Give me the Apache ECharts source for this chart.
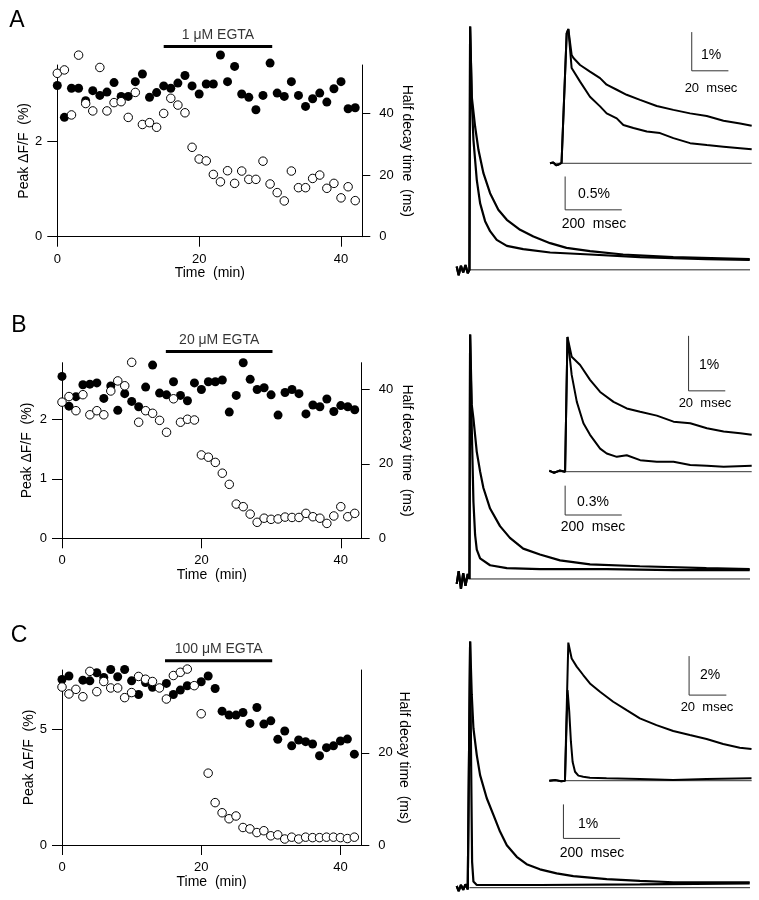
<!DOCTYPE html>
<html>
<head>
<meta charset="utf-8">
<script src="https://cdn.jsdelivr.net/npm/echarts@6/dist/echarts.min.js"></script>
<style>
html, body { margin: 0; padding: 0; background: #fff; }
#main { width: 759px; height: 900px; }
</style>
</head>
<body>
<div id="main"></div>
<script>
// time axis of the left panels (one point per minute)
var minutes = [0,1,2,3,4,5,6,7,8,9,10,11,12,13,14,15,16,17,18,19,20,21,22,23,24,25,26,27,28,29,30,31,32,33,34,35,36,37,38,39,40,41,42];

// A - 1 uM EGTA : filled = peak dF/F (%), open = half decay time (ms)
var peakA = [3.18,2.51,3.12,3.12,2.86,3.07,2.97,3.04,3.24,2.95,2.95,3.26,3.42,2.93,3.03,3.17,3.12,3.23,3.39,3.17,3.00,3.21,3.21,3.82,3.26,3.58,3.00,2.93,2.67,2.97,3.65,3.02,2.95,3.26,2.97,2.74,2.90,3.02,2.83,3.11,3.26,2.69,2.71];
var decayA = [53.0,54.1,39.5,58.9,43.2,40.8,54.9,40.8,43.5,43.8,38.7,46.8,36.4,37.0,35.5,40.0,44.9,42.7,40.2,29.0,25.2,24.6,20.2,17.8,21.4,17.3,21.3,18.6,18.6,24.5,17.1,14.3,11.6,21.3,15.9,15.9,18.9,20.0,15.7,17.3,12.6,16.2,11.7];

// B - 20 uM EGTA
var peakB = [2.72,2.22,2.38,2.58,2.59,2.61,2.35,2.56,2.15,2.43,2.30,2.21,2.54,2.91,2.44,2.41,2.63,2.40,2.31,2.61,2.50,2.63,2.63,2.66,2.12,2.40,2.95,2.67,2.50,2.53,2.41,2.07,2.45,2.50,2.43,2.09,2.24,2.21,2.34,2.13,2.23,2.21,2.16];
var decayB = [36.6,38.1,34.3,38.6,33.2,34.3,33.2,39.6,42.3,41.0,47.3,31.2,34.3,33.6,31.7,28.5,37.5,31.2,32.0,31.8,22.4,21.8,20.4,17.5,14.5,9.2,8.5,6.5,4.3,5.4,5.1,5.2,5.7,5.6,5.6,6.7,5.8,5.4,4.0,6.0,8.5,5.8,6.7];

// C - 100 uM EGTA (null = hidden behind an open circle)
var peakC = [7.16,7.31,null,7.13,7.10,7.45,7.25,7.59,7.28,7.59,7.10,6.51,7.03,6.82,null,6.99,6.51,6.70,6.89,null,7.06,7.31,6.77,5.79,5.62,5.62,5.73,5.26,5.95,5.23,5.37,4.57,4.93,4.29,4.54,4.47,4.37,3.86,4.21,4.29,4.50,4.58,3.93];
var decayC = [34.3,32.8,33.8,32.2,37.7,33.3,35.5,34.1,34.1,32.0,33.1,36.6,36.0,35.5,34.1,31.7,36.8,37.5,38.2,34.6,28.5,15.6,9.2,7.0,5.7,6.3,3.8,3.5,2.7,3.1,2.0,2.2,1.3,1.7,1.3,1.7,1.6,1.6,1.7,1.7,1.6,1.4,1.7];

var egtaLabels = ['1 \u03bcM EGTA', '20 \u03bcM EGTA', '100 \u03bcM EGTA'];
var egtaStart = [15, 14.9, 14.8];
var egtaEnd = [30.3, 30.2, 30.2];
var egtaLevel = [4.0, 3.14, 7.97];   // in left-axis units, above the plot

var timeTicks = [0, 20, 40];
var peakTicks = [[0, 2], [0, 1, 2], [0, 5]];
var decayTicks = [[0, 20, 40], [0, 20, 40], [0, 20]];

// right panels: [time ms, dF/F %]
var mainPreA = [[-45,0.05],[-38,-0.08],[-30,0.06],[-22,-0.04],[-14,0.07],[-6,-0.05],[0,0]];
var mainA_fast = [[2.4,3.65],[8.2,2.55],[14.1,1.95],[25.9,1.35],[37.6,1.0],[55.3,0.73],[72.9,0.58],[96.4,0.45],[132,0.36],[190,0.31],[285,0.26],[426,0.23],[602,0.19],[837,0.16],[990,0.15]];
var mainA_slow = [[2.4,3.65],[8.2,2.6],[20,2.15],[31.8,1.8],[49.4,1.45],[72.9,1.15],[102,0.9],[132,0.75],[179,0.6],[226,0.5],[285,0.4],[343,0.33],[426,0.28],[543,0.23],[720,0.19],[990,0.16]];
var insetPreA = [[-7.3,0],[-5.5,0.02],[-4,-0.05],[-2.5,-0.03],[-1,0.01],[0,0],[1.8,3.36],[2.7,3.47]];
var insetA_slow = [[4.5,2.80],[5.5,2.72],[9.1,2.54],[14.5,2.37],[20,2.20],[23.6,2.03],[29.1,1.90],[34.5,1.77],[41.8,1.64],[50.9,1.48],[60,1.38],[69.1,1.29],[78.2,1.22],[87.3,1.10],[96.4,1.03],[102.7,0.97]];
var insetA_fast = [[4.5,2.46],[5.5,2.41],[9.1,2.11],[14.5,1.72],[20,1.47],[23.6,1.29],[29.1,1.16],[32.7,0.99],[38.2,0.91],[45.5,0.82],[52.7,0.78],[60,0.65],[69.1,0.52],[78.2,0.47],[87.3,0.43],[96.4,0.39],[102.7,0.36]];

var mainPreB = [[-45,-0.05],[-38,0.08],[-30,-0.1],[-22,0.06],[-14,-0.07],[-6,0.05],[0,0]];
var mainB_fast = [[2.4,2.5],[8.2,1.54],[14.1,0.79],[20,0.45],[25.9,0.30],[37.6,0.21],[72.9,0.14],[132,0.11],[249,0.10],[485,0.10],[720,0.09],[990,0.09]];
var mainB_slow = [[2.4,2.5],[8.2,1.78],[14.1,1.64],[25.9,1.30],[37.6,1.10],[49.4,0.93],[72.9,0.72],[108,0.54],[143,0.42],[190,0.31],[249,0.25],[320,0.19],[426,0.15],[602,0.13],[837,0.11],[990,0.10]];
var insetPreB = [[-8.6,0.02],[-6,-0.02],[-3,0.02],[0,0],[1.3,2.45]];
var insetB_slow = [[3.6,2.09],[8.2,1.94],[13.6,1.67],[19.1,1.45],[26.4,1.27],[33.6,1.15],[40.9,1.09],[50,1.02],[59.1,0.91],[68.2,0.88],[77.3,0.79],[86.4,0.73],[95.5,0.70],[101.7,0.67]];
var insetB_fast = [[3.6,1.76],[6.4,1.27],[10,0.88],[13.6,0.67],[19.1,0.42],[22.7,0.33],[28.2,0.27],[33.6,0.30],[40.9,0.21],[50,0.18],[59.1,0.18],[68.2,0.12],[77.3,0.11],[86.4,0.09],[101.7,0.11]];

var mainPreC = [[-45,0.05],[-38,-0.1],[-30,0.08],[-22,-0.06],[-14,0.1],[-6,-0.05],[0,0]];
var mainC_fast = [[2.4,7.24],[5.9,3.7],[9.4,0.76],[14.1,0.18],[25.9,0.08],[249,0.08],[602,0.10],[990,0.13]];
var mainC_slow = [[2.4,7.24],[8.2,5.67],[14.1,4.69],[25.9,3.90],[37.6,3.31],[61.2,2.63],[84.7,2.14],[108,1.65],[132,1.25],[167,0.91],[202,0.69],[249,0.54],[308,0.42],[367,0.34],[485,0.25],[602,0.20],[720,0.16],[990,0.16]];
var insetPreC = [[-8.4,0],[-5,0.03],[-2,-0.03],[0,0]];
var insetC_slow = [[1.8,7.08],[3.6,6.27],[6.3,5.85],[9.8,5.42],[13.4,4.99],[18.8,4.56],[25.9,4.05],[33.1,3.62],[40.2,3.20],[49.1,2.85],[58.1,2.55],[67,2.34],[76,2.14],[84.9,1.88],[93.8,1.69],[100.1,1.62]];
var insetC_fast = [[1.4,4.65],[2.3,3.54],[3.2,2.0],[4.1,0.97],[5.4,0.46],[7.2,0.26],[9.8,0.2],[13.4,0.15],[22.3,0.12],[40.2,0.09],[58.1,0.03],[76,0.09],[100.1,0.12]];

// scale bars: [x0, x1, y0, y1] in trace units, and their labels
var mainBars = [[338, 538, 0.9, 1.4], [338, 538, 0.654, 0.954], [332, 532, 1.45, 2.45]];
var insetBars = [[70, 90, 2.39, 3.39], [67.3, 87.3, 1.47, 2.47], [66.6, 86.6, 4.39, 6.39]];
var mainBarText = ['0.5%', '0.3%', '1%'];
var insetBarText = ['1%', '1%', '2%'];

var font = '"Liberation Sans", Arial, Helvetica, sans-serif';
var myChart = echarts.init(document.getElementById('main'));

function pairs(xs, ys) {
	var out = [];
	for (var i = 0; i < xs.length; i++) {
		if (ys[i] != null) out.push([xs[i], ys[i]]);
	}
	return out;
}

var nameTxt = {color: '#000', fontFamily: font, fontSize: 14};

// layout of the 9 grids
var grids = [
	{left: 57.3, top: 65, width: 305, height: 171.7},
	{left: 62, top: 362.7, width: 299.7, height: 175.6},
	{left: 62, top: 670, width: 299.3, height: 175},
	{left: 456.7, top: 16.5, width: 293.3, height: 280},
	{left: 550, top: 20.1, width: 201.7, height: 154.8},
	{left: 456.7, top: 324.7, width: 293.3, height: 283.6},
	{left: 549.3, top: 328.7, width: 202.4, height: 154},
	{left: 456.7, top: 632.7, width: 293.3, height: 265.2},
	{left: 549.3, top: 636.4, width: 202.4, height: 152.1}
];
grids.forEach(function (g) { g.outerBoundsMode = 'none'; g.containLabel = false; });

var peakMax = [3.61, 2.95, 7.57];
var decayMax = [55.7, 47.2, 38.0];
var leftGap = [19, 28, 25];
var rightGap = [38, 38, 36];

var xAxes = [], yAxes = [], series = [];

function axisBase() {
	return {
		axisLine: {show: true, onZero: false, lineStyle: {color: '#000', width: 1}},
		splitLine: {show: false},
		nameTextStyle: nameTxt
	};
}

for (var p = 0; p < 3; p++) {
	var xa = axisBase();
	xa.type = 'value'; xa.gridIndex = p; xa.min = 0; xa.max = 43;
	xa.axisTick = {show: true, length: 10, customValues: timeTicks, lineStyle: {color: '#000'}};
	xa.axisLabel = {customValues: timeTicks, margin: 16, color: '#000', fontFamily: font, fontSize: 13};
	xa.name = 'Time  (min)'; xa.nameLocation = 'middle'; xa.nameGap = 29;
	xAxes.push(xa);

	var yl = axisBase();
	yl.type = 'value'; yl.gridIndex = p; yl.position = 'left'; yl.min = 0; yl.max = peakMax[p];
	yl.axisTick = {show: true, length: 10, customValues: peakTicks[p], lineStyle: {color: '#000'}};
	yl.axisLabel = {customValues: peakTicks[p], margin: 15, color: '#000', fontFamily: font, fontSize: 13};
	yl.name = 'Peak \u0394F/F  (%)'; yl.nameLocation = 'middle'; yl.nameGap = leftGap[p]; yl.nameRotate = 90;
	yAxes.push(yl);

	var yr = axisBase();
	yr.type = 'value'; yr.gridIndex = p; yr.position = 'right'; yr.min = 0; yr.max = decayMax[p];
	yr.axisTick = {show: true, length: 8, customValues: decayTicks[p], lineStyle: {color: '#000'}};
	yr.axisLabel = {customValues: decayTicks[p], margin: 17, color: '#000', fontFamily: font, fontSize: 13};
	yr.name = 'Half decay time  (ms)'; yr.nameLocation = 'middle'; yr.nameGap = rightGap[p]; yr.nameRotate = -90;
	yAxes.push(yr);
}

// trace grids 3..8
var traceX = [[-45, 991], [-7.3, 102.7], [-45, 991], [-8.6, 101.7], [-45, 991], [-8.4, 100.2]];
var traceY = [[-0.4, 3.8], [-0.3, 3.7], [-0.3, 2.6], [-0.2, 2.6], [-0.3, 7.5], [-0.4, 7.4]];
for (var t = 0; t < 6; t++) {
	xAxes.push({type: 'value', gridIndex: 3 + t, min: traceX[t][0], max: traceX[t][1], show: false});
	yAxes.push({type: 'value', gridIndex: 3 + t, min: traceY[t][0], max: traceY[t][1], show: false});
}

var peaks = [peakA, peakB, peakC];
var decays = [decayA, decayB, decayC];
for (p = 0; p < 3; p++) {
	series.push({
		type: 'scatter', xAxisIndex: p, yAxisIndex: 2 * p, clip: false, z: 2,
		symbolSize: 9, itemStyle: {color: '#000', opacity: 1},
		data: pairs(minutes, peaks[p])
	});
	series.push({
		type: 'scatter', xAxisIndex: p, yAxisIndex: 2 * p + 1, clip: false, z: 3,
		symbolSize: 8.5, itemStyle: {color: '#fff', borderColor: '#000', borderWidth: 1, opacity: 1},
		data: pairs(minutes, decays[p])
	});
	series.push({
		type: 'line', xAxisIndex: p, yAxisIndex: 2 * p, clip: false, symbol: 'none',
		lineStyle: {color: '#000', width: 3},
		data: [[egtaStart[p], egtaLevel[p]], [egtaEnd[p], egtaLevel[p]]]
	});
	series.push({
		type: 'scatter', xAxisIndex: p, yAxisIndex: 2 * p, clip: false, symbolSize: 1,
		itemStyle: {color: 'rgba(0,0,0,0)'},
		label: {show: true, position: 'top', distance: 4, formatter: '{b}', color: '#000', fontFamily: font, fontSize: 14},
		data: [{name: egtaLabels[p], value: [(egtaStart[p] + egtaEnd[p]) / 2, egtaLevel[p]]}]
	});
}

var traces = [
	{main: [mainPreA.concat(mainA_fast), mainPreA.concat(mainA_slow)], inset: [insetPreA.concat(insetA_fast), insetPreA.concat(insetA_slow)]},
	{main: [mainPreB.concat(mainB_fast), mainPreB.concat(mainB_slow)], inset: [insetPreB.concat(insetB_fast), insetPreB.concat(insetB_slow)]},
	{main: [mainPreC.concat(mainC_fast), mainPreC.concat(mainC_slow)], inset: [insetPreC.concat(insetC_fast), insetPreC.concat(insetC_slow)]}
];

function lineSeries(ax, data, w, color) {
	return {
		type: 'line', xAxisIndex: ax, yAxisIndex: ax + 3, symbol: 'none', showSymbol: false,
		lineStyle: {color: color || '#000', width: w}, data: data, silent: true
	};
}

for (p = 0; p < 3; p++) {
	var mi = 3 + 2 * p, ii = 4 + 2 * p;
	// baselines
	series.push(lineSeries(mi, [[0, 0], [traceX[2 * p][1], 0]], 1, '#222'));
	series.push(lineSeries(ii, [[traceX[2 * p + 1][0], 0], [traceX[2 * p + 1][1], 0]], 1, '#333'));
	// traces
	series.push(lineSeries(mi, traces[p].main[0], 2.2));
	series.push(lineSeries(mi, traces[p].main[1], 2.2));
	series.push(lineSeries(ii, traces[p].inset[0], 2));
	series.push(lineSeries(ii, traces[p].inset[1], 2));
	// scale bars
	var b = mainBars[p];
	series.push(lineSeries(mi, [[b[0], b[3]], [b[0], b[2]], [b[1], b[2]]], 1, '#333'));
	b = insetBars[p];
	series.push(lineSeries(ii, [[b[0], b[3]], [b[0], b[2]], [b[1], b[2]]], 1, '#333'));
}

// text labels
function label(x, y, s, size) {
	return {type: 'text', x: x, y: y, style: {text: s, fill: '#000', font: (size || 13) + 'px ' + font, textAlign: 'center', textVerticalAlign: 'middle'}};
}
var graphics = [
	label(17, 21, 'A', 23), label(19, 326, 'B', 23), label(19, 636, 'C', 23),
	label(594, 194, mainBarText[0], 14), label(594, 224, '200  msec', 14),
	label(711, 55, insetBarText[0], 14), label(711, 88, '20  msec', 13),
	label(593, 502, mainBarText[1], 14), label(593, 527, '200  msec', 14),
	label(709, 365, insetBarText[1], 14), label(705, 403, '20  msec', 13),
	label(588, 824, mainBarText[2], 14), label(592, 853, '200  msec', 14),
	label(710, 675, insetBarText[2], 14), label(707, 707, '20  msec', 13)
];

var option = {
	animation: false,
	backgroundColor: '#fff',
	textStyle: {fontFamily: font},
	grid: grids,
	xAxis: xAxes,
	yAxis: yAxes,
	series: series,
	graphic: graphics
};
myChart.setOption(option);
</script>
</body>
</html>
